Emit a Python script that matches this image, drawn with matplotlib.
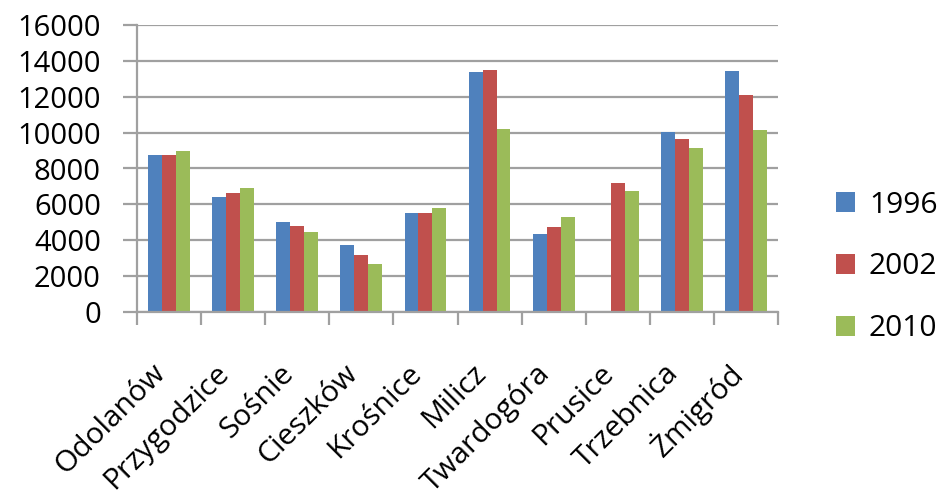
import numpy as np
import matplotlib
matplotlib.use("Agg")
import matplotlib.pyplot as plt
from matplotlib.transforms import ScaledTranslation

gminy = ["Odolanów", "Przygodzice", "Sośnie", "Cieszków", "Krośnice",
         "Milicz", "Twardogóra", "Prusice", "Trzebnica", "Żmigród"]
lata = ["1996", "2002", "2010"]
v1996 = [8750, 6400, 5040, 3760, 5520, 13370, 4330, 0, 10010, 13460]
v2002 = [8750, 6610, 4820, 3160, 5520, 13470, 4720, 7180, 9640, 12100]
v2010 = [8950, 6890, 4450, 2680, 5810, 10220, 5310, 6770, 9140, 10120]
yticks = [0, 2000, 4000, 6000, 8000, 10000, 12000, 14000, 16000]

kolory = ["#4F81BD", "#C0504D", "#9BBB59"]
szary = "#A0A0A0"

plt.rcParams["font.family"] = ["Open Sans", "DejaVu Sans"]

fig = plt.figure(figsize=(9.47, 4.98), dpi=100)
ax = fig.add_axes([137/947, 1 - 312/498, (778 - 137)/947, (312 - 25)/498])

x = np.arange(len(gminy))
w = 0.217
for i, (vals, lab) in enumerate(zip([v1996, v2002, v2010], lata)):
    ax.bar(x + (i - 1) * w, vals, width=w, color=kolory[i], label=lab, zorder=2)

ax.set_xlim(-0.5, len(gminy) - 0.5)
ax.set_ylim(0, 16000)
ax.set_yticks(yticks)
ax.set_yticklabels([str(t) for t in yticks])
ax.yaxis.grid(True, color=szary, linewidth=1.6)
ax.set_axisbelow(True)

# obramowanie w stylu Excela
for s in ["top", "right"]:
    ax.spines[s].set_visible(False)
for s in ["left", "bottom"]:
    ax.spines[s].set_color(szary)
    ax.spines[s].set_linewidth(1.6)

ax.tick_params(axis="y", length=10, width=1.6, color=szary, pad=16, labelsize=21)

# kreski między kategoriami, podpisy na środkach
ax.set_xticks(np.arange(len(gminy) + 1) - 0.5)
ax.set_xticklabels([])
ax.tick_params(axis="x", which="major", length=9, width=1.6, color=szary)
ax.set_xticks(x, minor=True)
ax.set_xticklabels(gminy, minor=True, rotation=45, ha="right", va="center",
                   rotation_mode="anchor", fontsize=21.5)
ax.tick_params(axis="x", which="minor", length=0, pad=41)
przes = ScaledTranslation(-8/100, 0, fig.dpi_scale_trans)
for lbl in ax.get_xticklabels(minor=True):
    lbl.set_transform(lbl.get_transform() + przes)

fig.legend(loc="center left", bbox_to_anchor=(836/947, 1 - 267/498),
           frameon=False, fontsize=21.5, handlelength=0.65, handleheight=0.65,
           handletextpad=0.45, labelspacing=1.1, borderpad=0, borderaxespad=0)

fig.savefig("out.png", dpi=100)
